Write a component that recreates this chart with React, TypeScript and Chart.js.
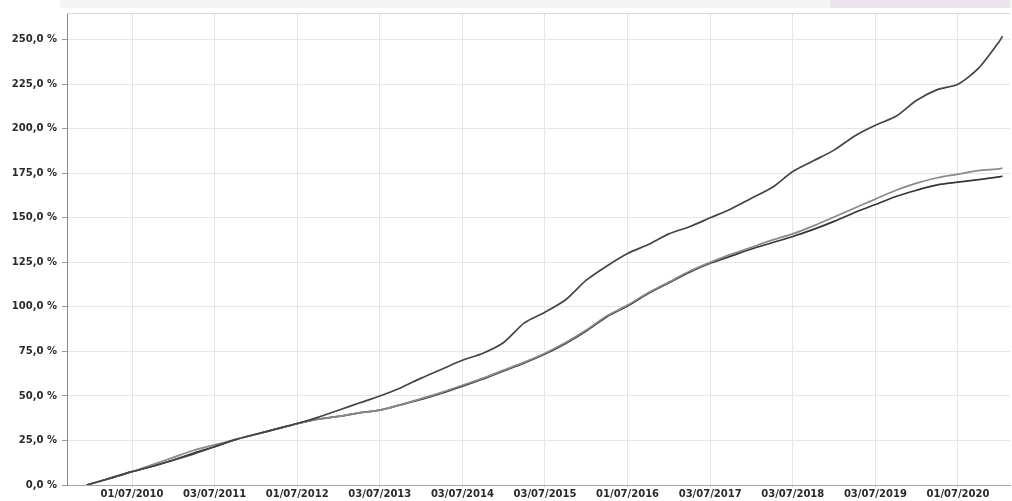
import React, { useEffect, useRef } from "react";
import { Chart, registerables } from "chart.js";

Chart.register(...registerables);

// decimal years of the sampled points
const years = [
  2009.95, 2010.25, 2010.5, 2010.75, 2011.0, 2011.25, 2011.5, 2011.75,
  2012.0, 2012.25, 2012.5, 2012.75, 2013.0, 2013.25, 2013.5, 2013.75,
  2014.0, 2014.25, 2014.5, 2014.75, 2015.0, 2015.25, 2015.5, 2015.75,
  2016.0, 2016.25, 2016.5, 2016.75, 2017.0, 2017.25, 2017.5, 2017.75,
  2018.0, 2018.25, 2018.5, 2018.75, 2019.0, 2019.25, 2019.5, 2019.75,
  2020.0, 2020.25, 2020.5, 2020.75, 2021.0, 2021.04,
];

const seriesA = [
  0, 4, 7.5, 10.5, 14, 17.5, 21.5, 25.5,
  28.5, 31.5, 34.5, 38, 42, 46, 50, 54.5,
  60, 65, 70, 74, 80, 91, 97, 104,
  115, 123, 130, 135, 141, 145, 150, 155,
  161, 167, 176, 182, 188, 196, 202, 207,
  216, 222, 225, 234, 249, 252,
];

const seriesB = [
  0, 4, 7.5, 11.5, 15.5, 19.5, 22.5, 25.5,
  28.5, 31.5, 34.5, 37, 38.5, 40.5, 42, 45,
  48.5, 52, 56, 60, 64.5, 69, 74, 80,
  87, 95, 101, 108, 114, 120, 125, 129.5,
  133.5, 137.5, 141, 145.5, 150.5, 155.5, 160.5, 165.5,
  169.5, 172.5, 174.5, 176.5, 177.5, 178,
];

const seriesC = [
  0, 4, 7.5, 10.5, 14, 18, 21.5, 25.5,
  28.5, 31.5, 34.5, 37, 38.5, 40.5, 42, 45,
  48, 51.5, 55.5, 59.5, 64, 68.5, 73.5, 79.5,
  86.5, 94.5, 100.5, 107.5, 113.5, 119.5, 124.5, 128.5,
  132.5, 136, 139.5, 143.5, 148, 153, 157.5, 162,
  165.5, 168.5, 170, 171.5, 173, 173.5,
];

const tickYears = [2010.5, 2011.5, 2012.5, 2013.5, 2014.5, 2015.5, 2016.5, 2017.5, 2018.5, 2019.5, 2020.5];
const tickLabels = [
  "01/07/2010", "03/07/2011", "01/07/2012", "03/07/2013", "03/07/2014",
  "03/07/2015", "01/07/2016", "03/07/2017", "03/07/2018", "03/07/2019", "01/07/2020",
];
const yTicks = [0, 25, 50, 75, 100, 125, 150, 175, 200, 225, 250];

const toPoints = (vals: number[]) => years.map((x, i) => ({ x, y: vals[i] }));

export default function App() {
  const ref = useRef<HTMLCanvasElement | null>(null);

  useEffect(() => {
    if (!ref.current) return;
    const topBorder = {
      id: "topBorder",
      afterDraw(chart: any) {
        const { ctx, chartArea } = chart;
        ctx.save();
        ctx.strokeStyle = "#d8d8d8";
        ctx.lineWidth = 1;
        ctx.beginPath();
        ctx.moveTo(chartArea.left, chartArea.top + 0.5);
        ctx.lineTo(chartArea.right, chartArea.top + 0.5);
        ctx.stroke();
        ctx.restore();
      },
    };
    const chart = new Chart(ref.current, {
      type: "line",
      data: {
        datasets: [
          { label: "A", data: toPoints(seriesA), borderColor: "#444444", borderWidth: 1.7, pointRadius: 0, tension: 0.25 },
          { label: "B", data: toPoints(seriesB), borderColor: "#8a8a8a", borderWidth: 1.7, pointRadius: 0, tension: 0.25 },
          { label: "C", data: toPoints(seriesC), borderColor: "#363636", borderWidth: 1.7, pointRadius: 0, tension: 0.25 },
        ],
      },
      options: {
        animation: false,
        responsive: true,
        maintainAspectRatio: false,
        layout: { padding: { top: 13, right: 2, left: 0, bottom: 0 } },
        plugins: { legend: { display: false }, tooltip: { enabled: false } },
        scales: {
          x: {
            type: "linear",
            min: 2009.713,
            max: 2021.13,
            afterFit: (s: any) => { s.height = 16; },
            afterBuildTicks: (s: any) => { s.ticks = tickYears.map((v) => ({ value: v })); },
            ticks: {
              autoSkip: false,
              maxRotation: 0,
              padding: 1,
              color: "#2a2a2a",
              font: { family: "DejaVu Sans", size: 10, weight: "bold" },
              callback: (_v: any, i: number) => tickLabels[i],
            },
            grid: { color: "#e6e6e6", tickLength: 2, tickColor: "#bbb" },
            border: { display: true, color: "#a8a8a8" },
          },
          y: {
            min: 0,
            max: 265,
            afterFit: (s: any) => { s.width = 67; },
            afterBuildTicks: (s: any) => { s.ticks = yTicks.map((v) => ({ value: v })); },
            ticks: {
              padding: 5,
              color: "#2a2a2a",
              font: { family: "DejaVu Sans", size: 10, weight: "bold" },
              callback: (v: any) => Number(v).toFixed(1).replace(".", ",") + " %",
            },
            grid: { color: "#e6e6e6", tickLength: 5, tickColor: "#999" },
            border: { display: true, color: "#8a8a8a" },
          },
        },
      },
      plugins: [topBorder],
    } as any);
    return () => chart.destroy();
  }, []);

  return (
    <div style={{ position: "absolute", left: 0, top: 0, width: 1012, height: 501, background: "#fff" }}>
      <div style={{ position: "absolute", left: 60, top: 0, width: 952, height: 8, background: "#f6f3f6" }} />
      <div style={{ position: "absolute", left: 830, top: 0, width: 180, height: 8, background: "#ece2f0" }} />
      <canvas ref={ref} style={{ position: "absolute", left: 0, top: 0 }} />
    </div>
  );
}
